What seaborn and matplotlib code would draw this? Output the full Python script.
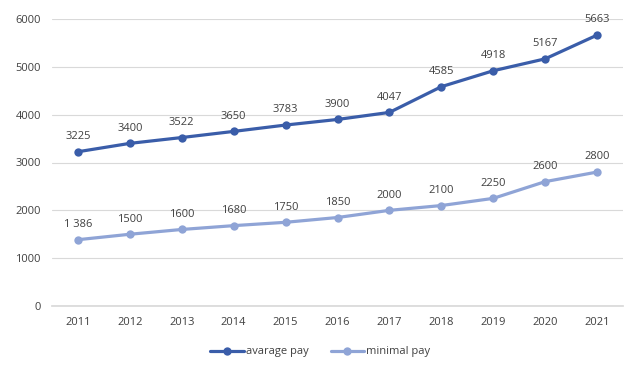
import matplotlib
matplotlib.use("Agg")
import matplotlib.pyplot as plt
import pandas as pd
import seaborn as sns

years = ["2011", "2012", "2013", "2014", "2015", "2016", "2017", "2018", "2019", "2020", "2021"]
average_pay = [3225, 3400, 3522, 3650, 3783, 3900, 4047, 4585, 4918, 5167, 5663]
minimal_pay = [1386, 1500, 1600, 1680, 1750, 1850, 2000, 2100, 2250, 2600, 2800]
minimal_labels = ["1 386", "1500", "1600", "1680", "1750", "1850", "2000", "2100", "2250", "2600", "2800"]

df = pd.DataFrame({
    "year": years * 2,
    "pay": average_pay + minimal_pay,
    "series": ["avarage pay"] * len(years) + ["minimal pay"] * len(years),
})

sns.set_theme(style="white")
plt.rcParams["font.family"] = ["Open Sans", "DejaVu Sans"]

colors = {"avarage pay": "#3A5DA9", "minimal pay": "#8FA4D6"}
text_color = "#404040"

fig = plt.figure(figsize=(6.43, 3.81), dpi=100)
ax = fig.add_axes([52 / 643, 1 - 306 / 381, 571 / 643, 287 / 381])

sns.lineplot(data=df, x="year", y="pay", hue="series", palette=colors,
             marker="o", markersize=6, markeredgewidth=0, linewidth=2.3,
             sort=False, ax=ax)

for i, v in enumerate(average_pay):
    ax.annotate(str(v), (i, v), xytext=(0, 7), textcoords="offset points",
                ha="center", va="bottom", fontsize=8, color=text_color)
for i, (v, lab) in enumerate(zip(minimal_pay, minimal_labels)):
    ax.annotate(lab, (i, v), xytext=(0, 7), textcoords="offset points",
                ha="center", va="bottom", fontsize=8, color=text_color)

ax.set_xlim(-0.5, len(years) - 0.5)
ax.set_ylim(0, 6000)
ax.set_yticks(range(0, 6001, 1000))
ax.grid(True, axis="y", color="#d9d9d9", linewidth=0.8)
ax.set_axisbelow(True)
for side in ["top", "right", "left"]:
    ax.spines[side].set_visible(False)
ax.spines["bottom"].set_color("#d9d9d9")
ax.tick_params(axis="both", length=0, labelsize=8, colors=text_color, pad=8)
ax.set_xlabel("")
ax.set_ylabel("")

handles, labels = ax.get_legend_handles_labels()
ax.legend(handles, labels, loc="center", bbox_to_anchor=(0.47, -0.16),
          ncol=2, frameon=False, fontsize=8, labelcolor=text_color,
          handlelength=3, handletextpad=0.2, columnspacing=2)

fig.savefig("out.png", dpi=100)
